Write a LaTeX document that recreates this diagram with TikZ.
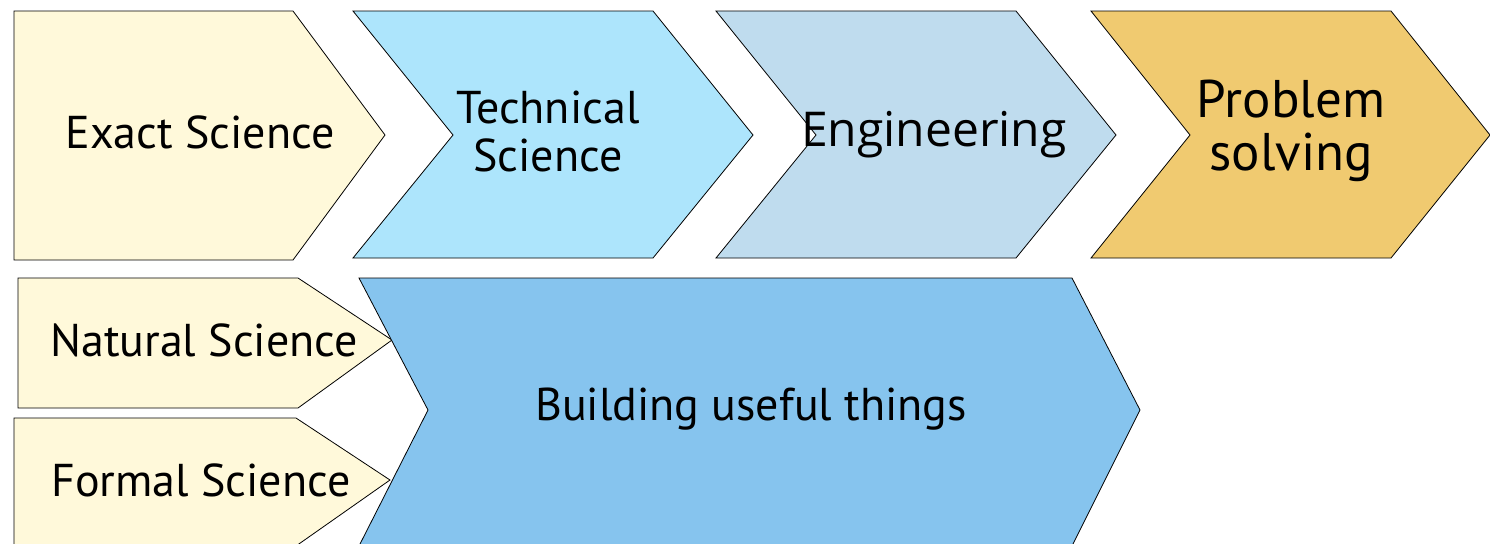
\documentclass[tikz,border=0pt]{standalone}
\usepackage{fontspec}
\setmainfont{PT Sans}
\newfontfamily\engfont{Open Sans}
\usepackage{xcolor}
\definecolor{creamfill}{HTML}{FFF9DA}
\definecolor{techfill}{HTML}{ADE5FC}
\definecolor{engfill}{HTML}{BFDCEE}
\definecolor{probfill}{HTML}{F0CA70}
\definecolor{buildfill}{HTML}{86C4EE}

\begin{document}
\begin{tikzpicture}[x=0.5pt, y=-0.5pt,
    stage/.style={draw=black, line width=0.4pt},
    lbl/.style={align=center, inner sep=0pt, font=\fontsize{23}{24}\selectfont}]
    \useasboundingbox (0,0) rectangle (1490,543);

    % Top row
    \draw[stage, fill=creamfill] (14,11) -- (293,11) -- (385,135) -- (293,260) -- (14,260) -- cycle;
    \node[lbl] (exact) at (200,132) {Exact Science};

    \draw[stage, fill=techfill] (353,11) -- (653,11) -- (753,135) -- (653,258) -- (353,258) -- (453,135) -- cycle;
    \node[lbl] (tech) at (548,131) {Technical\\Science};

    \draw[stage, fill=engfill] (716,11) -- (1016,11) -- (1116,135) -- (1016,258) -- (716,258) -- (816,135) -- cycle;
    \node[lbl, font=\engfont\fontsize{24}{25}\selectfont] (eng) at (934,135) {Engineering};

    \draw[stage, fill=probfill] (1091,11) -- (1391,11) -- (1490,135) -- (1391,258) -- (1091,258) -- (1190,135) -- cycle;
    \node[lbl, font=\fontsize{26.5}{26.5}\selectfont] (prob) at (1291,131) {Problem\\solving};

    % Bottom row
    \draw[stage, fill=creamfill] (18,278) -- (298,278) -- (392,340) -- (298,408) -- (18,408) -- cycle;
    \node[lbl] (natural) at (204,340) {Natural Science};

    \draw[stage, fill=creamfill] (14,418) -- (296,418) -- (390,480) -- (296,546) -- (14,546) -- cycle;
    \node[lbl] (formal) at (201,480) {Formal Science};

    \draw[stage, fill=buildfill] (359,278) -- (1072,278) -- (1140,410) -- (1072,546) -- (359,546) -- (428,410) -- cycle;
    \node[lbl] (build) at (751,409) {Building useful things};
\end{tikzpicture}
\end{document}
